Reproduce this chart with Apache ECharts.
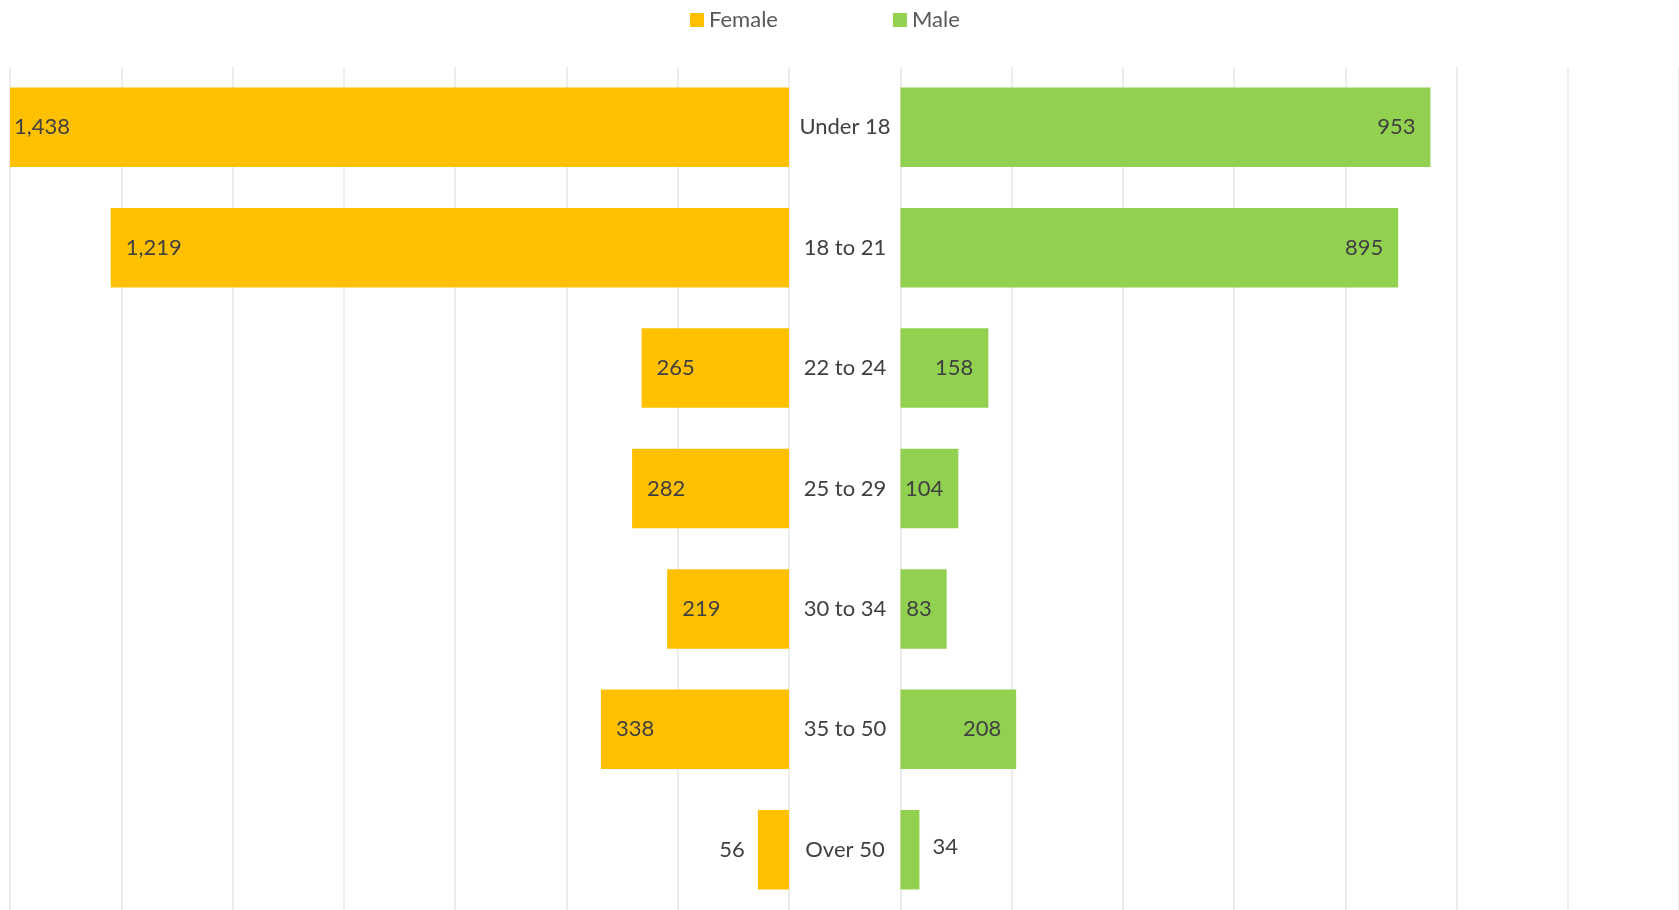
<!DOCTYPE html>
<html>
<head>
<meta charset="utf-8">
<title>Female / Male by age</title>
<script src="https://cdn.jsdelivr.net/npm/echarts@6/dist/echarts.min.js"></script>
<style>
  html, body { margin: 0; padding: 0; background: #fff; }
  #chart { width: 1679px; height: 910px; }
</style>
</head>
<body>
<div id="chart"></div>
<script>
// 数据
const categories = ['Under 18', '18 to 21', '22 to 24', '25 to 29', '30 to 34', '35 to 50', 'Over 50']
const female = [1438, 1219, 265, 282, 219, 338, 56]
const male = [953, 895, 158, 104, 83, 208, 34]
const axisMax = 1400
const axisStep = 200

const textColor = '#404040'
const fontFamily = 'Lato, "Open Sans", sans-serif'
const fmt = v => Number(v).toLocaleString('en-US')

// 太窄放不下标签的柱子，标签放外面
const femaleData = female.map(v => {
  if (v < 100) return { value: v, label: { position: 'left', distance: 13 } }
  if (v > axisMax) return { value: v, label: { distance: 4 } }
  return v
})
const maleData = male.map(v => {
  if (v < 60) return { value: v, label: { position: 'right', distance: 13, offset: [0, -3] } }
  return v
})

const gridLine = { show: true, lineStyle: { color: '#e6e6e6', width: 1.5 } }

const options = {
  animation: false,
  textStyle: { fontFamily },
  legend: {
    left: 685,
    top: 4,
    itemWidth: 14,
    itemHeight: 14,
    itemGap: 115,
    icon: 'rect',
    textStyle: { color: '#595959', fontSize: 22, fontFamily },
    data: ['Female', 'Male']
  },
  grid: [
    { left: 10, top: 67, width: 779, bottom: -2 },
    { left: 900.5, top: 67, width: 779, bottom: -2 }
  ],
  xAxis: [
    {
      gridIndex: 0, type: 'value', inverse: true, min: 0, max: axisMax, interval: axisStep,
      axisLabel: { show: false }, axisLine: { show: false }, axisTick: { show: false },
      splitLine: gridLine
    },
    {
      gridIndex: 1, type: 'value', min: 0, max: axisMax, interval: axisStep,
      axisLabel: { show: false }, axisLine: { show: false }, axisTick: { show: false },
      splitLine: gridLine
    }
  ],
  yAxis: [
    {
      gridIndex: 0, type: 'category', data: categories, inverse: true, position: 'right',
      axisLine: { show: false }, axisTick: { show: false },
      axisLabel: { margin: 56, align: 'center', color: textColor, fontSize: 22, fontFamily }
    },
    {
      gridIndex: 1, type: 'category', data: categories, inverse: true,
      axisLine: { show: false }, axisTick: { show: false }, axisLabel: { show: false }
    }
  ],
  series: [
    {
      name: 'Female',
      type: 'bar',
      xAxisIndex: 0,
      yAxisIndex: 0,
      data: femaleData,
      barWidth: '66%',
      itemStyle: { color: '#FFC000' },
      label: {
        show: true, position: 'insideLeft', distance: 15,
        color: textColor, fontSize: 22, fontFamily,
        formatter: p => fmt(p.value)
      }
    },
    {
      name: 'Male',
      type: 'bar',
      xAxisIndex: 1,
      yAxisIndex: 1,
      data: maleData,
      barWidth: '66%',
      itemStyle: { color: '#92D050' },
      label: {
        show: true, position: 'insideRight', distance: 15,
        color: textColor, fontSize: 22, fontFamily,
        formatter: p => fmt(p.value)
      }
    }
  ]
}

const chart = echarts.init(document.getElementById('chart'))
chart.setOption(options)
window.addEventListener('resize', () => chart.resize())
</script>
</body>
</html>
